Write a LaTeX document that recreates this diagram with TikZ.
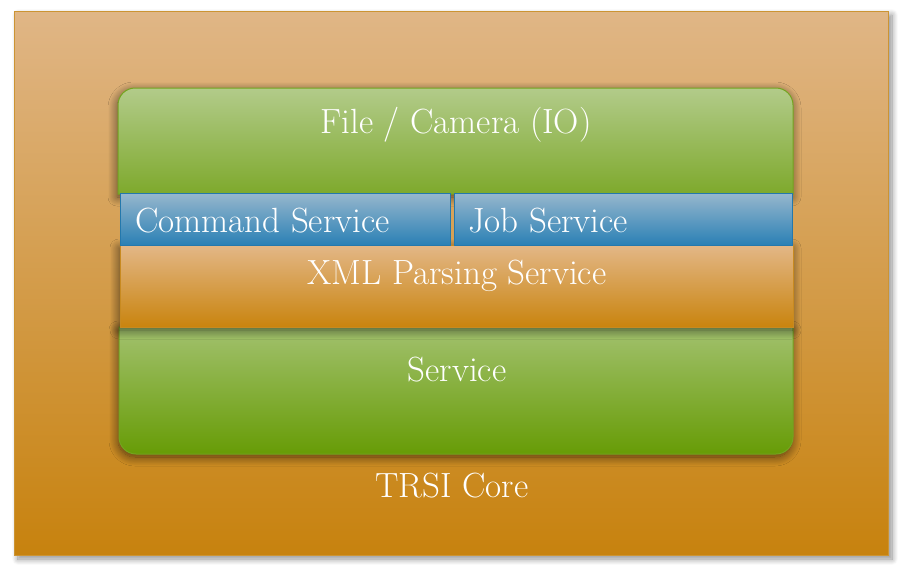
\documentclass[tikz,border=0pt]{standalone}
\usetikzlibrary{shadows.blur}
\definecolor{coreTop}{HTML}{E0B686}
\definecolor{coreBot}{HTML}{C7820E}
\definecolor{coreLine}{HTML}{CC9433}
\definecolor{gTopA}{HTML}{B2CB8A}
\definecolor{gTopB}{HTML}{7EA92C}
\definecolor{gSrvA}{HTML}{A2C16E}
\definecolor{gSrvB}{HTML}{679C06}
\definecolor{gLine}{HTML}{74A420}
\definecolor{bA}{HTML}{97B7CD}
\definecolor{bB}{HTML}{2A80B5}
\definecolor{bLine}{HTML}{2478AC}
\definecolor{xA}{HTML}{E3B787}
\definecolor{xB}{HTML}{C9840E}
\definecolor{xLine}{HTML}{C88A20}
\tikzset{
  lbl/.style={text=white, font=\fontsize{35}{40}\selectfont, inner sep=0pt},
  innershadow/.style={blur shadow={shadow xshift=-1pt, shadow yshift=-3pt, shadow blur radius=9pt, shadow blur steps=16, shadow opacity=60}},
}
\begin{document}
\begin{tikzpicture}[x=1pt,y=-1pt]
\useasboundingbox (0,0) rectangle (909,571);
% outer core box
\path[blur shadow={shadow xshift=4pt, shadow yshift=-4pt, shadow blur radius=6pt, shadow blur steps=10, shadow opacity=45},
  top color=coreTop, bottom color=coreBot, draw=coreLine, line width=1pt]
  (14,11) rectangle (888,555);
% top green (rounded top corners)
\path[innershadow, top color=gTopA, bottom color=gTopB, draw=gLine, line width=1pt]
  (118,194) [rounded corners=17] -- (118,88) -- (793,88) [sharp corners] -- (793,194) -- cycle;
% service green (rounded bottom corners)
\path[innershadow, top color=gSrvA, bottom color=gSrvB, draw=gLine, line width=1pt]
  (119,327) [rounded corners=17] -- (119,454) -- (793,454) [sharp corners] -- (793,327) -- cycle;
% xml parsing
\path[innershadow, top color=xA, bottom color=xB, draw=xLine, line width=0.8pt]
  (120,245) rectangle (793,327);
% command / job
\path[top color=bA, bottom color=bB, draw=bLine, line width=1pt]
  (120,193) rectangle (450,245);
\path[top color=bA, bottom color=bB, draw=bLine, line width=1pt]
  (454,193) rectangle (792,245);
% labels
\node[lbl] (io) at (456,125) {File / Camera (IO)};
\node[lbl, anchor=west] (cmd) at (135,221) {Command Service};
\node[lbl, anchor=west] (job) at (468,221) {Job Service};
\node[lbl] (xml) at (457,276) {XML Parsing Service};
\node[lbl] (srv) at (457,370) {Service};
\node[lbl] (core) at (452,486) {TRSI Core};
\end{tikzpicture}
\end{document}
